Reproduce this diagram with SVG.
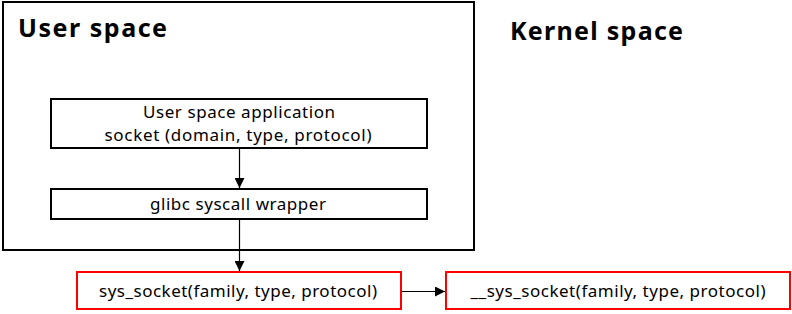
<svg xmlns="http://www.w3.org/2000/svg" width="792" height="314" viewBox="0 0 792 314">
<style>
.title{font-family:"Noto Sans","Liberation Sans",sans-serif;font-weight:bold;font-size:25px;fill:#000}
.lbl{font-family:"Noto Sans","Liberation Sans",sans-serif;font-size:17px;fill:#000;text-anchor:middle}
.box{fill:#fff;stroke:#000;stroke-width:2}
.red{fill:#fff;stroke:#f00;stroke-width:2}
.conn{stroke:#000;stroke-width:1.2;fill:none;marker-end:url(#arr)}
</style>
<defs>
<marker id="arr" markerWidth="10" markerHeight="10" refX="10" refY="5" orient="auto" markerUnits="userSpaceOnUse">
<path d="M0,0 L10,5 L0,10 Z" fill="#000"/>
</marker>
</defs>
<rect width="792" height="314" fill="#fff"/>
<g id="userspace">
<rect x="3" y="2" width="471" height="248" fill="none" stroke="#000" stroke-width="2"/>
<text class="title" x="18" y="37" textLength="149">User space</text>
</g>
<g id="kernelspace">
<text class="title" x="510" y="40" textLength="173">Kernel space</text>
</g>
<g id="app">
<rect class="box" x="51" y="99" width="376" height="49"/>
<text class="lbl" x="239" y="118" textLength="192">User space application</text>
<text class="lbl" x="238" y="141" textLength="267">socket (domain, type, protocol)</text>
</g>
<g id="glibc">
<rect class="box" x="51" y="189" width="376" height="30"/>
<text class="lbl" x="238" y="210" textLength="176">glibc syscall wrapper</text>
</g>
<g id="sys_socket">
<rect class="red" x="77" y="272" width="324" height="37"/>
<text class="lbl" x="238" y="297" textLength="278">sys_socket(family, type, protocol)</text>
</g>
<g id="__sys_socket">
<rect class="red" x="446" y="272" width="344" height="37"/>
<text class="lbl" x="618" y="297" textLength="295">__sys_socket(family, type, protocol)</text>
</g>
<g id="connectors">
<line class="conn" x1="239.5" y1="149" x2="239.5" y2="188"/>
<line class="conn" x1="239.5" y1="220" x2="239.5" y2="271"/>
<line class="conn" x1="402" y1="291.5" x2="445" y2="291.5"/>
</g>
</svg>
